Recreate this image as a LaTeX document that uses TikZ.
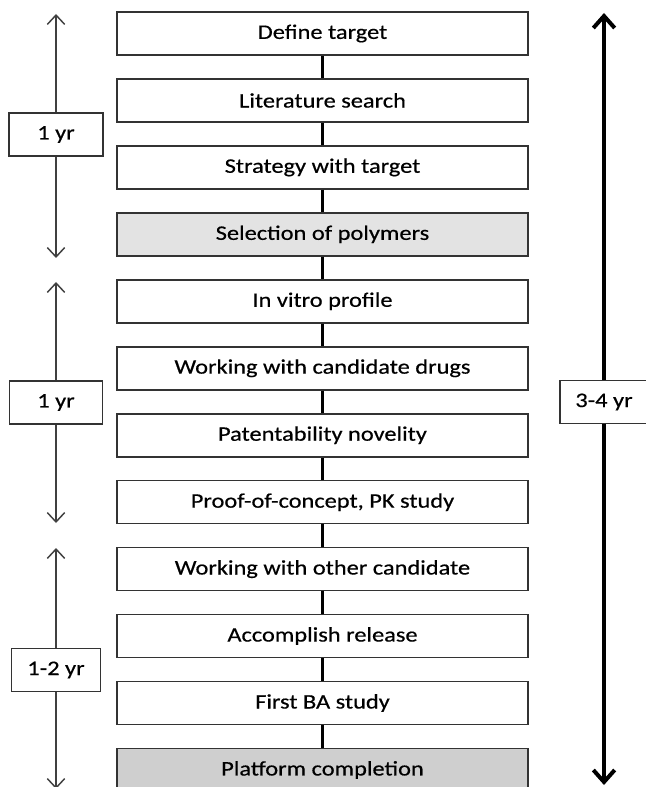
\documentclass[tikz,border=0pt]{standalone}
\usepackage{fontspec}
\setmainfont{Carlito}[FakeStretch=1.18, FakeBold=0.5]
\usetikzlibrary{arrows.meta}
\begin{document}
\begin{tikzpicture}[
      x=0.75pt, y=-0.75pt,
      font=\fontsize{15.5}{18}\selectfont,
      stage/.style={draw=black!80, line width=1.2pt, text=black, minimum width=308.25pt, minimum height=32.25pt, inner sep=0pt},
      span/.style={draw=black!80, line width=1.1pt, fill=white, text=black, minimum height=32.25pt, inner sep=0pt},
      link/.style={line width=1.8pt},
      yrarrow/.style={black!75, line width=1.1pt, -{Straight Barb[length=7pt,width=13pt]}},
      totarrow/.style={line width=3pt, -{Straight Barb[length=9pt,width=16pt]}}
    ]
    \useasboundingbox (0,0) rectangle (645,787);
    % stages of the programme
    \foreach \i/\txt/\col in {0/Define target/white, 1/Literature search/white,
        2/Strategy with target/white, 3/Selection of polymers/gray!22,
        4/In vitro profile/white, 5/Working with candidate drugs/white,
        6/Patentability novelity/white, 7/{Proof-of-concept, PK study}/white,
        8/Working with other candidate/white, 9/Accomplish release/white,
        10/First BA study/white, 11/Platform completion/gray!38} {
      \node[stage, fill=\col] (s\i) at (322.5,33.5+66.95*\i) {\txt};
    }
    \foreach \i [count=\j from 1] in {0,...,10}
      \draw[link] (s\i) -- (s\j);
    % time spans on the left
    \coordinate (a1top) at (56,14);
    \coordinate (a1bot) at (56,258);
    \coordinate (a2top) at (56,282);
    \coordinate (a2bot) at (56,523);
    \coordinate (a3top) at (56,548);
    \coordinate (a3bot) at (56,789);
    \node[span, minimum width=70.5pt] (y1) at (56,134.5) {1 yr};
    \node[span, minimum width=70pt] (y2) at (56,402.5) {1 yr};
    \node[span, minimum width=67pt] (y3) at (56,670) {1-2 yr};
    \foreach \n in {1,2,3} {
      \draw[yrarrow] (y\n) -- (a\n top);
      \draw[yrarrow] (y\n) -- (a\n bot);
    }
    % whole programme on the right
    \coordinate (ttop) at (604,13);
    \coordinate (tbot) at (604,785);
    \node[span, minimum width=66pt] (ytot) at (604,402) {3-4 yr};
    \draw[totarrow] (ytot) -- (ttop);
    \draw[totarrow] (ytot) -- (tbot);
  \end{tikzpicture}
\end{document}
